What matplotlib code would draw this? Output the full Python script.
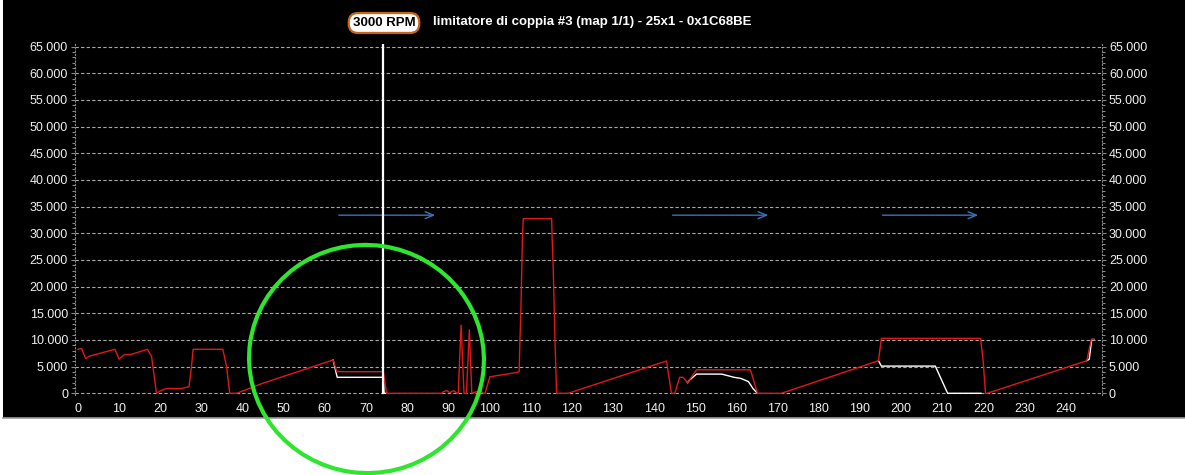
import numpy as np
import matplotlib
matplotlib.use('Agg')
import matplotlib.pyplot as plt
from matplotlib.patches import Rectangle, Ellipse
from matplotlib.lines import Line2D
from matplotlib.ticker import MultipleLocator, FuncFormatter

W, H = 1185, 475

plt.rcParams['font.family'] = ['Liberation Sans', 'DejaVu Sans']

# red trace (map values)
red_x = [0, 0.9, 1.9, 2.9, 9.0, 10.0, 11.2, 13.0, 16.9, 17.9, 19.1, 19.9, 21.5, 25.2,
         27.0, 27.6, 28.0, 35.2, 36.1, 36.9, 38.6, 45.0, 62.0, 62.9, 74.2, 75.0,
         88.4, 88.8, 89.6, 90.4, 91.2, 92.0, 92.4, 93.1, 93.8, 94.4, 95.1, 95.7,
         96.9, 97.7, 98.5, 98.9, 100.1, 106.6, 107.2, 107.4, 107.6, 107.8, 108.0,
         108.2, 115.1, 115.2, 115.5, 115.7, 115.9, 116.3, 119.1, 143.0, 144.2,
         145.0, 146.2, 147.0, 148.1, 150.3, 163.4, 165.1, 170.9, 194.5, 195.2,
         219.3, 219.9, 220.5, 220.9, 245.1, 246.2, 246.8]
red_y = [8250, 8400, 6500, 7000, 8250, 6400, 7200, 7300, 8250, 6900, 0, 400, 900, 900,
         1250, 5000, 8250, 8250, 5100, 0, 0, 1900, 6250, 4050, 4050, 0,
         0, 300, 500, 100, 500, 100, 0, 12800, 0, 0, 11900, 0,
         300, 600, 0, 0, 3100, 3900, 4050, 10100, 14800, 22000, 29200,
         32750, 32750, 29500, 22900, 16400, 10100, 0, 0, 6060, 0,
         0, 3000, 3000, 2000, 4400, 4400, 0, 0, 6100, 10300,
         10300, 6250, 0, 0, 6100, 10100, 10100]

# white trace (only where it departs from the red one)
white_x = [62.0, 63.0, 74.2, 74.4, 75.0, np.nan,
           148.1, 148.6, 150.3, 156.4, 159.4, 161.0, 162.9, 164.0, 165.1, np.nan,
           194.5, 195.2, 208.3, 211.3, 219.4, np.nan,
           245.1, 245.7, 246.3, 246.8]
white_y = [6250, 3000, 3000, 0, 0, np.nan,
           2000, 2500, 3600, 3600, 3000, 2800, 2200, 900, 0, np.nan,
           6100, 5100, 5100, 0, 0, np.nan,
           6100, 6400, 10100, 10100]

# blue arrows (start, end) at one level
arrow_x = [(62.7, 87.5), (143.8, 168.4), (194.8, 219.4)]
arrow_level = 33400

cursor_x = 74.2
cursor_label = '3000 RPM'
title = 'limitatore di coppia #3 (map 1/1) - 25x1 - 0x1C68BE'


""" format y ticks like 65.000
"""
def fmt_thousands(v, pos=None):
    if v == 0:
        return '0'
    return '{:,}'.format(int(round(v))).replace(',', '.')


fig = plt.figure(figsize=(W / 100, H / 100), dpi=100, facecolor='white')

# black panel + grey border line
fig.patches.append(Rectangle((3 / W, 57 / H), 1 - 3 / W, 1 - 57 / H,
                             transform=fig.transFigure, facecolor='black',
                             edgecolor='none', zorder=-5))
fig.add_artist(Line2D([3 / W, 1], [57 / H, 57 / H], transform=fig.transFigure,
                      color='#9a9a9a', lw=1.2, zorder=-4))

ax = fig.add_axes([75 / W, 80 / H, 1027 / W, 351 / H])
ax.set_zorder(1)
ax.set_facecolor('black')
ax.set_xlim(-0.7, 248.8)
ax.set_ylim(-320, 65500)

ax.yaxis.set_major_locator(MultipleLocator(5000))
ax.yaxis.set_minor_locator(MultipleLocator(1000))
ax.yaxis.set_major_formatter(FuncFormatter(fmt_thousands))
ax.set_xticks(np.arange(0, 241, 10))

for s in ['top', 'bottom']:
    ax.spines[s].set_visible(False)
for s in ['left', 'right']:
    ax.spines[s].set_color('#8a8a8a')
    ax.spines[s].set_linestyle((0, (1, 2)))
    ax.spines[s].set_linewidth(0.8)

ax.tick_params(axis='y', which='both', left=True, right=True, labelleft=True,
               labelright=True, colors='#8a8a8a', labelcolor='#f0f0f0',
               labelsize=9, pad=2)
ax.tick_params(axis='y', which='major', length=3, width=0.8)
ax.tick_params(axis='y', which='minor', length=2, width=0.8)
ax.tick_params(axis='x', length=0, labelcolor='#f0f0f0', labelsize=9, pad=6)

ax.yaxis.grid(True, which='major', color='#a8a8a8', lw=0.8, ls=(0, (3, 2)))
ax.set_axisbelow(True)

ax.plot(white_x, white_y, color='white', lw=1.0, zorder=3)
ax.plot(red_x, red_y, color='#e01818', lw=1.0, zorder=4)

for x0, x1 in arrow_x:
    ax.annotate('', xy=(x1, arrow_level), xytext=(x0, arrow_level),
                arrowprops=dict(arrowstyle='->,head_length=0.6,head_width=0.25',
                                color='#3d72b8', lw=1.0), zorder=5)

ax.axvline(cursor_x, ymin=0.005, ymax=1.0, color='white', lw=1.6, zorder=6)

# cursor label + title
fig.text(384 / W, 1 - 23 / H, cursor_label, ha='center', va='center',
         fontsize=9.5, fontweight='bold', color='black',
         bbox=dict(boxstyle='round,pad=0.3,rounding_size=0.7', facecolor='white',
                   edgecolor='#c8641a', lw=1.6))
fig.text(433 / W, 1 - 22 / H, title, ha='left', va='center', fontsize=9.5,
         fontweight='bold', color='white')

# hand drawn green circle
fig.add_artist(Ellipse((3.665, 1.16), 2.35, 2.28, angle=-8,
                       transform=fig.dpi_scale_trans, fill=False,
                       edgecolor='#2ee62e', lw=3.0, zorder=10))

fig.savefig('out.png', dpi=100, facecolor='white')
